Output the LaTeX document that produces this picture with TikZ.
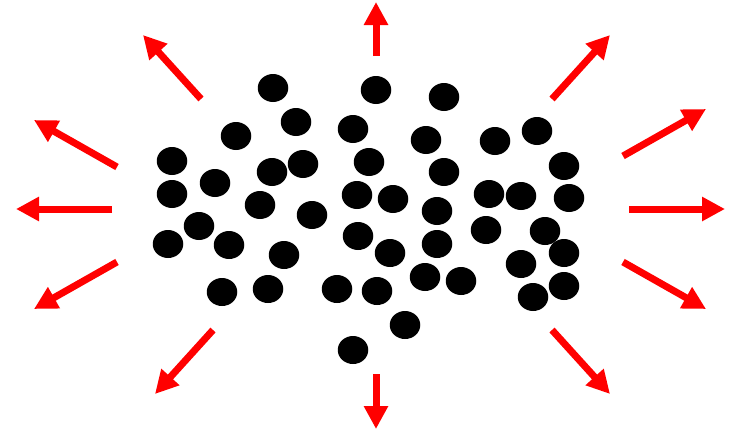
\documentclass[tikz,border=0pt]{standalone}
\usetikzlibrary{shapes.geometric,arrows.meta}
\begin{document}
\begin{tikzpicture}[x=1pt,y=-1pt,
  dot/.style={ellipse,fill=black,draw=none,inner sep=0pt,minimum width=30.5pt,minimum height=28pt},
  ray/.style={draw=red,line width=7pt,-{Triangle[length=23pt,width=23pt]}}]
\useasboundingbox (0,0) rectangle (738,431);
\foreach \x/\y [count=\i] in {273/88,296/122,353/129,236/136,172/161,215/183,272/172,303/164,369/162,172/194,260/205,312/215,357/195,199/226,168/244,229/245,284/255,358/236,222/292,268/289,337/289,377/291,353/350,376/90,444/97,426/140,495/141,537/131,444/172,564/166,393/199,437/211,489/194,521/196,569/198,390/253,437/244,486/230,545/231,564/253,425/277,461/281,521/264,564/286,533/297,405/325}
  \node[dot] (d\i) at (\x,\y) {};
\foreach \a/\b/\c/\d [count=\i] in {201/99/143/35, 117/167/34/120, 112/209/16/209, 117/262/34/309, 213/330/155/394, 376/56/376/2, 376/374/376/429, 552/99/610/35, 623/156/706/109, 629/209/725/209, 623/262/706/309, 552/330/610/394}{
  \coordinate (s\i) at (\a,\b);
  \coordinate (t\i) at (\c,\d);
  \draw[ray] (s\i) -- (t\i);
}
\end{tikzpicture}
\end{document}
